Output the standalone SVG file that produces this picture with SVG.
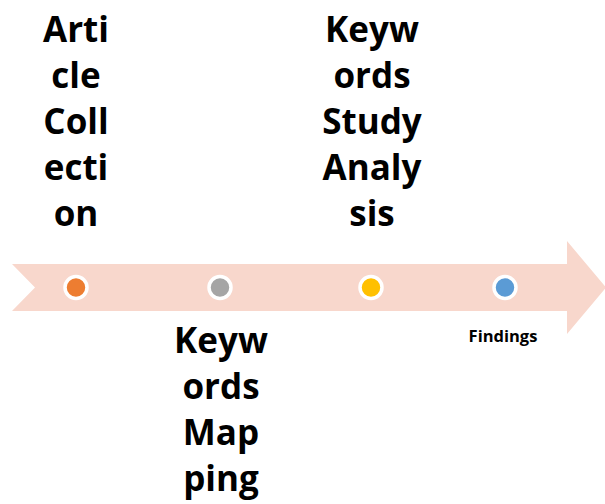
<svg xmlns="http://www.w3.org/2000/svg" width="605" height="504" viewBox="0 0 605 504">
<style>
.big{font-family:"Open Sans","Liberation Sans",sans-serif;font-weight:bold;font-size:35px;fill:#000;text-anchor:middle}
.small{font-family:"Open Sans","Liberation Sans",sans-serif;font-weight:bold;font-size:16.5px;fill:#000;text-anchor:middle}
.dot{stroke:#fff;stroke-width:3.5}
</style>
<rect width="605" height="504" fill="#fff"/>
<g id="arrow">
<path d="M12,264 L567,264 L567,241 L606,287.5 L567,334 L567,311 L12,311 L35,287.5 Z" fill="#F8D7CC"/>
</g>
<g id="connectors"/>
<g id="node-article">
<circle class="dot" cx="76" cy="287.5" r="11" fill="#ED7D31"/>
<text class="big"><tspan x="76" y="42">Arti</tspan><tspan x="76" y="88">cle</tspan><tspan x="76" y="134">Coll</tspan><tspan x="76" y="180">ecti</tspan><tspan x="76" y="226">on</tspan></text>
</g>
<g id="node-mapping">
<circle class="dot" cx="220" cy="287.5" r="11" fill="#A5A5A5"/>
<text class="big"><tspan x="221" y="353">Keyw</tspan><tspan x="221" y="399">ords</tspan><tspan x="221" y="445">Map</tspan><tspan x="221" y="491">ping</tspan></text>
</g>
<g id="node-study">
<circle class="dot" cx="371" cy="287.5" r="11" fill="#FFC000"/>
<text class="big"><tspan x="372" y="42">Keyw</tspan><tspan x="372" y="88">ords</tspan><tspan x="372" y="134">Study</tspan><tspan x="372" y="180">Analy</tspan><tspan x="372" y="226">sis</tspan></text>
</g>
<g id="node-findings">
<circle class="dot" cx="505" cy="287.5" r="11" fill="#5B9BD5"/>
<text class="small" x="503" y="342">Findings</text>
</g>
</svg>
